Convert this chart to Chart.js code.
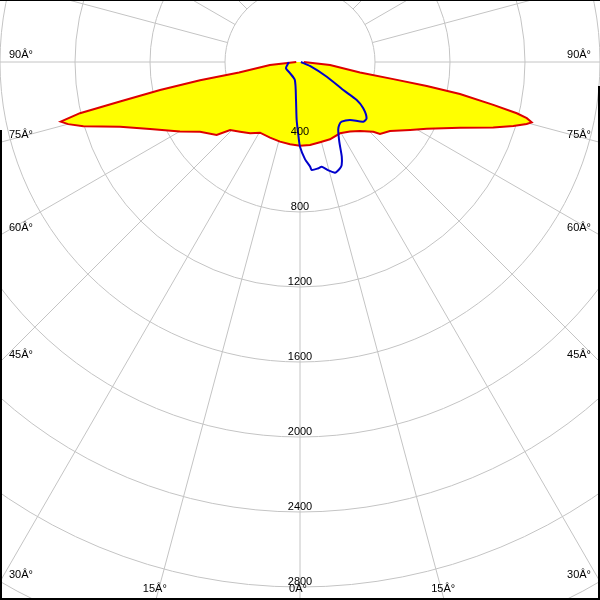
<!DOCTYPE html>
<html>
<head>
<meta charset="utf-8">
<script src="https://cdn.jsdelivr.net/npm/chart.js@4.4.1/dist/chart.umd.min.js"></script>
<style>
  body { margin: 0; background: #fff; }
  #wrap { width: 600px; height: 600px; position: relative; }
</style>
</head>
<body>
<div id="wrap"><canvas id="polar-chart" width="600" height="600"></canvas></div>
<script>
// C0-C180 plane (red, filled) - angle from nadir in degrees, intensity in cd
const redAngles = [-90, -84.3, -80.2, -79.6, -78.7, -77.6, -76.9, -76, -75, -73.5, -70.2, -65.9, -59.9, -55.1, -48.8, -45.8, -40.7, -35, -29.5, -21.6, -14.1, -6.9, 0, 6.9, 14, 21.2, 29.3, 35.7, 41, 46.4, 48, 52.5, 58.3, 62.2, 67.7, 71.3, 73.3, 74.7, 75.4, 76.1, 76.7, 77.5, 78.7, 79.3, 79.6, 80, 84.3, 90];
const redValues = [20, 161, 330, 542, 761, 983, 1205, 1315, 1280, 1205, 1020, 876, 740, 650, 591, 520, 490, 464, 433, 434, 438, 442, 446, 446, 441, 442, 436, 457, 488, 540, 574, 605, 690, 764, 923, 1088, 1188, 1253, 1277, 1246, 1188, 1056, 870, 688, 506, 325, 161, 20];

// C90-C270 plane (blue)
const blueAngles = [-90, -84, -66, -42, -16, -6, -3.3, -1.4, 0, 3, 5.5, 6.2, 9.8, 11.7, 14.7, 17.5, 18.5, 20.6, 22, 23.8, 26.2, 29.5, 32, 34.9, 40.8, 46.7, 49.8, 53.8, 56.2, 57.1, 61.2, 68.2, 90];
const blueValues = [60, 63, 82, 80, 100, 204, 310, 385, 452, 520, 560, 579, 575, 570, 598, 619, 617, 606, 593, 552, 475, 414, 395, 388, 408, 464, 465, 418, 364, 275, 163, 57, 5];

// grid
const ringValues = [400, 800, 1200, 1600, 2000, 2400, 2800, 3200];
const ringLabels = ['400', '800', '1200', '1600', '2000', '2400', '2800'];
const angleTicks = [90, 75, 60, 45, 30, 15, 0];

const PX_PER_CD = 75 / 400;
const CX = 300, CY = 62;

function toXY(angles, values) {
    return angles.map((a, i) => {
        const rad = a * Math.PI / 180;
        return { x: values[i] * Math.sin(rad), y: values[i] * Math.cos(rad) };
    });
}

const polarGrid = {
    id: 'polarGrid',
    beforeDatasetsDraw(chart) {
        const ctx = chart.ctx;
        const xs = chart.scales.x, ys = chart.scales.y;
        const cx = xs.getPixelForValue(0), cy = ys.getPixelForValue(0);
        const rad = v => xs.getPixelForValue(v) - cx;
        ctx.save();
        ctx.strokeStyle = '#c4c4c4';
        ctx.lineWidth = 1;
        ringValues.forEach(v => {
            ctx.beginPath();
            ctx.arc(cx, cy, rad(v), 0, Math.PI * 2);
            ctx.stroke();
        });
        const r0 = rad(ringValues[0]), r1 = rad(5000);
        for (let a = 0; a < 360; a += 15) {
            const t = a * Math.PI / 180;
            ctx.beginPath();
            ctx.moveTo(cx + r0 * Math.sin(t), cy + r0 * Math.cos(t));
            ctx.lineTo(cx + r1 * Math.sin(t), cy + r1 * Math.cos(t));
            ctx.stroke();
        }
        ctx.restore();
    },
    afterDatasetsDraw(chart) {
        const ctx = chart.ctx;
        const xs = chart.scales.x, ys = chart.scales.y;
        const cx = xs.getPixelForValue(0), cy = ys.getPixelForValue(0);
        const W = chart.width, H = chart.height;
        ctx.save();
        ctx.fillStyle = '#000';
        ctx.font = '11px "Liberation Sans", Arial, sans-serif';
        ctx.textAlign = 'center';
        ctx.textBaseline = 'alphabetic';
        ringLabels.forEach((lab, i) => {
            ctx.fillText(lab, cx, ys.getPixelForValue(ringValues[i]) - 2);
        });
        angleTicks.forEach(a => {
            const t = a * Math.PI / 180;
            const s = Math.sin(t), c = Math.cos(t);
            let ey = s > 0 ? cy + (cx / s) * c : Infinity;
            if (ey <= H) {
                ctx.textAlign = 'left';
                ctx.fillText(a + 'Â°', 9, ey - 4);
                ctx.textAlign = 'right';
                ctx.fillText(a + 'Â°', W - 9, ey - 4);
            } else {
                const ex = ((H - cy) / c) * s;
                ctx.textAlign = 'center';
                if (a === 0) {
                    ctx.fillText(a + 'Â°', cx - 2, H - 8);
                } else {
                    ctx.fillText(a + 'Â°', cx - ex - 1, H - 8);
                    ctx.fillText(a + 'Â°', cx + ex - 1, H - 8);
                }
            }
        });
        ctx.restore();
    },
    afterDraw(chart) {
        const ctx = chart.ctx;
        ctx.save();
        ctx.fillStyle = '#000';
        ctx.fillRect(0, 0, 600, 1);
        ctx.fillRect(0, 130, 2, 470);
        ctx.fillRect(598, 86, 2, 514);
        ctx.fillRect(0, 598, 600, 2);
        ctx.restore();
    }
};

const ctx = document.getElementById('polar-chart').getContext('2d');
new Chart(ctx, {
    type: 'scatter',
    data: {
        datasets: [
            {
                label: 'C90-C270',
                data: toXY(blueAngles, blueValues),
                showLine: true,
                borderColor: '#0000cc',
                borderWidth: 2,
                pointRadius: 0,
                tension: 0.25,
                fill: false
            },
            {
                label: 'C0-C180',
                data: toXY(redAngles, redValues),
                showLine: true,
                borderColor: '#dd0000',
                backgroundColor: '#ffff00',
                borderWidth: 2,
                pointRadius: 0,
                tension: 0,
                fill: 'shape'
            }
        ]
    },
    options: {
        responsive: false,
        devicePixelRatio: 1,
        animation: false,
        layout: { padding: 0 },
        plugins: { legend: { display: false }, tooltip: { enabled: false } },
        scales: {
            x: { type: 'linear', display: false, min: -CX / PX_PER_CD, max: (600 - CX) / PX_PER_CD },
            y: { type: 'linear', display: false, reverse: true, min: -CY / PX_PER_CD, max: (600 - CY) / PX_PER_CD }
        }
    },
    plugins: [polarGrid]
});
</script>
</body>
</html>
